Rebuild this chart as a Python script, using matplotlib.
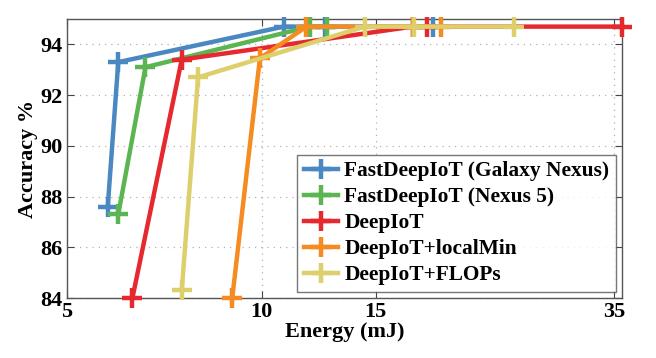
import matplotlib
matplotlib.use("Agg")
import matplotlib.pyplot as plt
from matplotlib.ticker import FixedLocator, NullLocator, FixedFormatter

plt.rcParams['font.family'] = ['Liberation Serif', 'DejaVu Serif']
plt.rcParams['font.weight'] = 'bold'

labels = ["FastDeepIoT (Galaxy Nexus)", "FastDeepIoT (Nexus 5)", "DeepIoT",
          "DeepIoT+localMin", "DeepIoT+FLOPs"]
colors = ["#4a88c2", "#5bb552", "#e5292f", "#f68b22", "#ddcf6c"]

blue_x = [5.78, 6.0, 10.81, 12.5, 18.39]
blue_y = [87.6, 93.3, 94.7, 94.7, 94.7]
green_x = [6.0, 6.61, 11.86, 12.6]
green_y = [87.3, 93.1, 94.7, 94.7]
red_x = [6.31, 7.52, 17.1, 18.0, 36.0]
red_y = [84.0, 93.4, 94.7, 94.7, 94.7]
orange_x = [9.0, 9.93, 11.72, 17.1, 18.9]
orange_y = [84.0, 93.45, 94.7, 94.7, 94.7]
yellow_x = [7.52, 7.97, 14.42, 17.15, 24.5]
yellow_y = [84.3, 92.7, 94.7, 94.7, 94.7]

series_x = [blue_x, green_x, red_x, orange_x, yellow_x]
series_y = [blue_y, green_y, red_y, orange_y, yellow_y]

xticks = [5, 10, 15, 35]
yticks = [84, 86, 88, 90, 92, 94]

fig = plt.figure(figsize=(6.56, 3.58), dpi=100)
ax = fig.add_axes([67/656, 1-298/358, (622-67)/656, (298-19)/358])

for xs, ys, c, lab in zip(series_x, series_y, colors, labels):
    ax.plot(xs, ys, color=c, lw=3.2, marker='+', ms=14, mew=3.2, label=lab,
            clip_on=False, zorder=3)

ax.set_xscale('log')
ax.set_xlim(5, 36)
ax.set_ylim(84, 95)
ax.xaxis.set_major_locator(FixedLocator(xticks))
ax.xaxis.set_major_formatter(FixedFormatter([str(t) for t in xticks]))
ax.xaxis.set_minor_locator(NullLocator())
ax.set_yticks(yticks)
ax.tick_params(axis='both', which='major', direction='in', length=5,
               labelsize=16, top=True, right=True, color='#444444', pad=3)
for lab in ax.get_xticklabels() + ax.get_yticklabels():
    lab.set_fontweight('bold')
ax.grid(True, which='major', ls=(0, (1, 4)), color='#b0b0b0', lw=0.9)
for s in ax.spines.values():
    s.set_color('#555555')
    s.set_linewidth(1.0)

ax.set_xlabel('Energy (mJ)', fontsize=16, fontweight='bold', labelpad=0)
ax.set_ylabel('Accuracy %', fontsize=16, fontweight='bold', labelpad=2)

leg = ax.legend(loc='lower right', bbox_to_anchor=(616/656, 1-291.7/358),
                bbox_transform=fig.transFigure, fontsize=15.4, frameon=True,
                fancybox=False, edgecolor='#555555', handlelength=1.6,
                handletextpad=0.3, labelspacing=0.28, borderpad=0.3,
                borderaxespad=0)
leg.get_frame().set_linewidth(1.0)
for t in leg.get_texts():
    t.set_fontweight('bold')

fig.savefig('out.png', dpi=100)
